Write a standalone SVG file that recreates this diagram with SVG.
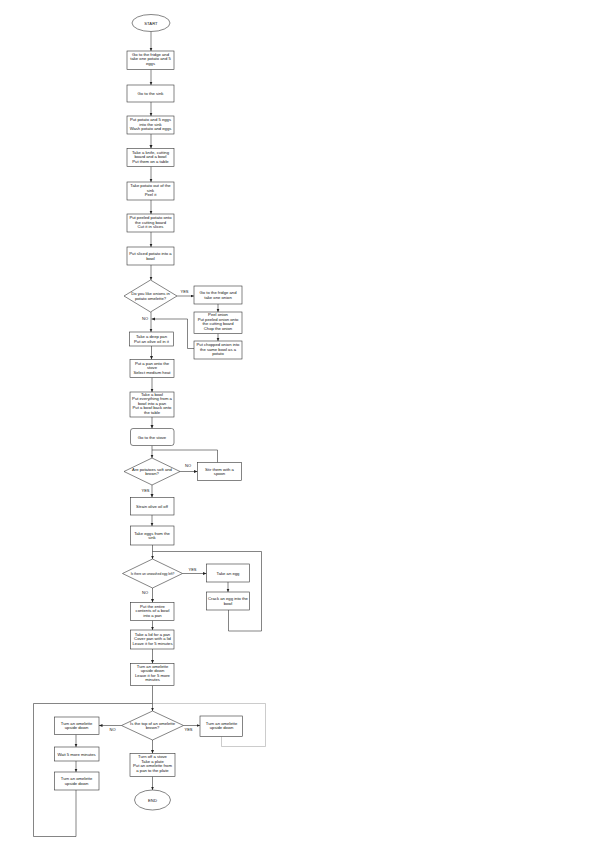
<svg xmlns="http://www.w3.org/2000/svg" width="600" height="848" viewBox="0 0 600 848">
<style>
.b{fill:#fff;stroke:#333;stroke-width:0.6}
.t{font-family:"Liberation Sans",Arial,sans-serif;font-size:4.2px;fill:#111;text-anchor:middle}
.s{font-size:3.2px}
.l{font-family:"Liberation Sans",Arial,sans-serif;font-size:4px;fill:#111;text-anchor:middle}
.c{fill:none;stroke:#333;stroke-width:0.6}
.g{fill:none;stroke:#aaa;stroke-width:0.6}
</style>
<defs>
<marker id="a" markerUnits="userSpaceOnUse" markerWidth="4" markerHeight="4" refX="3.5" refY="1.5" orient="auto">
<path d="M0,0 L3.5,1.5 L0,3 z" fill="#222"/>
</marker>
</defs>
<rect width="600" height="848" fill="#fff"/>
<g id="connectors">
<path class="c" marker-end="url(#a)" d="M151,31.5 V51"/>
<path class="c" marker-end="url(#a)" d="M151,69.5 V85"/>
<path class="c" marker-end="url(#a)" d="M151,102 V116"/>
<path class="c" marker-end="url(#a)" d="M151,134 V148.5"/>
<path class="c" marker-end="url(#a)" d="M151,166.5 V182"/>
<path class="c" marker-end="url(#a)" d="M151,200 V214"/>
<path class="c" marker-end="url(#a)" d="M151,232 V247"/>
<path class="c" marker-end="url(#a)" d="M151,265 V280"/>
<path class="c" marker-end="url(#a)" d="M177,296 H194"/>
<path class="c" marker-end="url(#a)" d="M218,304 V312"/>
<path class="c" marker-end="url(#a)" d="M218,333.5 V341"/>
<path class="c" marker-end="url(#a)" d="M194,348.5 H187.5 V319 H151.5"/>
<path class="c" marker-end="url(#a)" d="M151,312 V332"/>
<path class="c" marker-end="url(#a)" d="M151.5,346 V359.5"/>
<path class="c" marker-end="url(#a)" d="M152,377.5 V392"/>
<path class="c" marker-end="url(#a)" d="M152,417 V428.5"/>
<path class="c" marker-end="url(#a)" d="M152,445.5 V458"/>
<path class="c" d="M217.5,462.5 V450 H152"/>
<path class="c" marker-end="url(#a)" d="M180,471.5 H197.5"/>
<path class="c" marker-end="url(#a)" d="M152,485 V497.5"/>
<path class="c" marker-end="url(#a)" d="M152,515 V526"/>
<path class="c" marker-end="url(#a)" d="M152.5,545 V559"/>
<path class="c" d="M228.5,610 V631 H261.5 V551.5 H152.5"/>
<path class="c" marker-end="url(#a)" d="M182.5,573.5 H206.5"/>
<path class="c" marker-end="url(#a)" d="M228,582 V592"/>
<path class="c" marker-end="url(#a)" d="M152.5,588 V602.5"/>
<path class="c" marker-end="url(#a)" d="M152.5,620.5 V630"/>
<path class="c" marker-end="url(#a)" d="M152.5,649 V663.5"/>
<path class="c" marker-end="url(#a)" d="M152.5,685.5 V711"/>
<path class="c" marker-end="url(#a)" d="M121.5,725.5 H99"/>
<path class="c" marker-end="url(#a)" d="M183.5,725.5 H200"/>
<path class="g" d="M221.5,736.5 V746.5 H265.5 V703.5 H152.5"/>
<path class="c" marker-end="url(#a)" d="M76,734.5 V747"/>
<path class="c" marker-end="url(#a)" d="M76,761 V772"/>
<path class="c" d="M76,790 V836.5 H33.5 V703.5 H152.5"/>
<path class="c" marker-end="url(#a)" d="M152.5,740 V753.5"/>
<path class="c" marker-end="url(#a)" d="M152.5,776.5 V790"/>
<text class="l" x="184.5" y="292.5">YES</text>
<text class="l" x="145" y="320">NO</text>
<text class="l" x="188" y="467">NO</text>
<text class="l" x="145.5" y="491.5">YES</text>
<text class="l" x="192.5" y="570.5">YES</text>
<text class="l" x="145" y="594">NO</text>
<text class="l" x="112.5" y="730.5">NO</text>
<text class="l" x="188.5" y="730.5">YES</text>
</g>
<g id="start"><ellipse class="b" cx="151" cy="23" rx="19" ry="8.5"/><text class="t" x="151" y="24.5">START</text></g>
<g id="n1"><rect class="b" x="127" y="51" width="47" height="18.5"/><text class="t" y="55.8"><tspan x="150.5">Go to the fridge and</tspan><tspan x="150.5" dy="4.6">take one potato and 5</tspan><tspan x="150.5" dy="4.6">eggs</tspan></text></g>
<g id="n2"><rect class="b" x="127" y="85" width="47" height="17"/><text class="t" x="150.5" y="95">Go to the sink</text></g>
<g id="n3"><rect class="b" x="127" y="116" width="47" height="18"/><text class="t" y="121"><tspan x="150.5">Put potato and 5 eggs</tspan><tspan x="150.5" dy="4.6">into the sink</tspan><tspan x="150.5" dy="4.6">Wash potato and eggs</tspan></text></g>
<g id="n4"><rect class="b" x="127" y="148.5" width="47" height="18"/><text class="t" y="153.5"><tspan x="150.5">Take a knife, cutting</tspan><tspan x="150.5" dy="4.6">board and a bowl</tspan><tspan x="150.5" dy="4.6">Put them on a table</tspan></text></g>
<g id="n5"><rect class="b" x="127" y="182" width="47" height="18"/><text class="t" y="187"><tspan x="150.5">Take potato out of the</tspan><tspan x="150.5" dy="4.6">sink</tspan><tspan x="150.5" dy="4.6">Peel it</tspan></text></g>
<g id="n6"><rect class="b" x="127" y="214" width="47" height="18"/><text class="t" y="219"><tspan x="150.5">Put peeled potato onto</tspan><tspan x="150.5" dy="4.6">the cutting board</tspan><tspan x="150.5" dy="4.6">Cut it in slices</tspan></text></g>
<g id="n7"><rect class="b" x="127" y="247" width="47" height="18"/><text class="t" y="255"><tspan x="150.5">Put sliced potato into a</tspan><tspan x="150.5" dy="4.6">bowl</tspan></text></g>
<g id="d1"><polygon class="b" points="150.5,280 177,296 150.5,312 124,296"/><text class="t" y="295"><tspan x="150.5">Do you like onions in</tspan><tspan x="150.5" dy="4.6">potato omelette?</tspan></text></g>
<g id="o1"><rect class="b" x="194" y="286" width="48" height="18"/><text class="t" y="294"><tspan x="218">Go to the fridge and</tspan><tspan x="218" dy="4.6">take one onion</tspan></text></g>
<g id="o2"><rect class="b" x="194" y="312" width="48" height="21.5"/><text class="t" y="316"><tspan x="218">Peel onion</tspan><tspan x="218" dy="4.6">Put peeled onion onto</tspan><tspan x="218" dy="4.6">the cutting board</tspan><tspan x="218" dy="4.6">Chop the onion</tspan></text></g>
<g id="o3"><rect class="b" x="194" y="341" width="48" height="18"/><text class="t" y="346"><tspan x="218">Put chopped onion into</tspan><tspan x="218" dy="4.6">the same bowl as a</tspan><tspan x="218" dy="4.6">potato</tspan></text></g>
<g id="n8"><rect class="b" x="129.5" y="332" width="44" height="14"/><text class="t" y="338"><tspan x="151.5">Take a deep pan</tspan><tspan x="151.5" dy="4.6">Put an olive oil in it</tspan></text></g>
<g id="n9"><rect class="b" x="130" y="359.5" width="44" height="18"/><text class="t" y="364.5"><tspan x="152">Put a pan onto the</tspan><tspan x="152" dy="4.6">stove</tspan><tspan x="152" dy="4.6">Select medium heat</tspan></text></g>
<g id="n10"><rect class="b" x="130" y="392" width="44" height="25"/><text class="t" y="395.5"><tspan x="152">Take a bowl</tspan><tspan x="152" dy="4.6">Put everything from a</tspan><tspan x="152" dy="4.6">bowl into a pan</tspan><tspan x="152" dy="4.6">Put a bowl back onto</tspan><tspan x="152" dy="4.6">the table</tspan></text></g>
<g id="n11"><rect class="b" x="130.5" y="428.5" width="43.5" height="17" rx="2.5"/><text class="t" x="152" y="438.5">Go to the stove</text></g>
<g id="d2"><polygon class="b" points="152,458 180,471.5 152,485 124,471.5"/><text class="t" y="470.5"><tspan x="152">Are potatoes soft and</tspan><tspan x="152" dy="4.6">brown?</tspan></text></g>
<g id="s1"><rect class="b" x="197.5" y="462.5" width="44" height="18"/><text class="t" y="470.5"><tspan x="219.5">Stir them with a</tspan><tspan x="219.5" dy="4.6">spoon</tspan></text></g>
<g id="n12"><rect class="b" x="130.5" y="497.5" width="43.5" height="17.5"/><text class="t" x="152" y="507.5">Strain olive oil off</text></g>
<g id="n13"><rect class="b" x="130.5" y="526" width="43.5" height="19"/><text class="t" y="534.5"><tspan x="152">Take eggs from the</tspan><tspan x="152" dy="4.6">sink</tspan></text></g>
<g id="d3"><polygon class="b" points="152.5,559 182.5,573.5 152.5,588 122.5,573.5"/><text class="t s" x="152.5" y="574.6">Is there an unwashed egg left?</text></g>
<g id="e1"><rect class="b" x="206.5" y="564" width="43" height="18"/><text class="t" x="228" y="574.5">Take an egg</text></g>
<g id="e2"><rect class="b" x="206.5" y="592" width="43" height="18"/><text class="t" y="600"><tspan x="228">Crack an egg into the</tspan><tspan x="228" dy="4.6">bowl</tspan></text></g>
<g id="n14"><rect class="b" x="130.5" y="602.5" width="43.5" height="18"/><text class="t" y="607.5"><tspan x="152.5">Put the entire</tspan><tspan x="152.5" dy="4.6">contents of a bowl</tspan><tspan x="152.5" dy="4.6">into a pan</tspan></text></g>
<g id="n15"><rect class="b" x="130.5" y="630" width="43.5" height="19"/><text class="t" y="635.5"><tspan x="152.5">Take a lid for a pan</tspan><tspan x="152.5" dy="4.6">Cover pan with a lid</tspan><tspan x="152.5" dy="4.6">Leave it for 5 minutes</tspan></text></g>
<g id="n16"><rect class="b" x="130.5" y="663.5" width="43.5" height="22"/><text class="t" y="667.5"><tspan x="152.5">Turn an omelette</tspan><tspan x="152.5" dy="4.6">upside down</tspan><tspan x="152.5" dy="4.6">Leave it for 5 more</tspan><tspan x="152.5" dy="4.6">minutes</tspan></text></g>
<g id="d4"><polygon class="b" points="152.5,711 183.5,725.5 152.5,740 121.5,725.5"/><text class="t" y="724.5"><tspan x="152.5">Is the top of an omelette</tspan><tspan x="152.5" dy="4.6">brown?</tspan></text></g>
<g id="l1"><rect class="b" x="54.5" y="717" width="44.5" height="17.5"/><text class="t" y="724.5"><tspan x="76.5">Turn an omelette</tspan><tspan x="76.5" dy="4.6">upside down</tspan></text></g>
<g id="l2"><rect class="b" x="54.5" y="747" width="44.5" height="14"/><text class="t" x="76.5" y="755.5">Wait 5 more minutes</text></g>
<g id="l3"><rect class="b" x="54.5" y="772" width="44.5" height="18"/><text class="t" y="780"><tspan x="76.5">Turn an omelette</tspan><tspan x="76.5" dy="4.6">upside down</tspan></text></g>
<g id="r1"><rect class="b" x="200" y="716" width="42.5" height="20.5"/><text class="t" y="724.5"><tspan x="221.5">Turn an omelette</tspan><tspan x="221.5" dy="4.6">upside down</tspan></text></g>
<g id="n17"><rect class="b" x="130" y="753.5" width="45" height="23"/><text class="t" y="758"><tspan x="152.5">Turn off a stove</tspan><tspan x="152.5" dy="4.6">Take a plate</tspan><tspan x="152.5" dy="4.6">Put an omelette from</tspan><tspan x="152.5" dy="4.6">a pan to the plate</tspan></text></g>
<g id="end"><ellipse class="b" cx="152.5" cy="800" rx="18" ry="10"/><text class="t" x="152.5" y="801.5">END</text></g>
</svg>
